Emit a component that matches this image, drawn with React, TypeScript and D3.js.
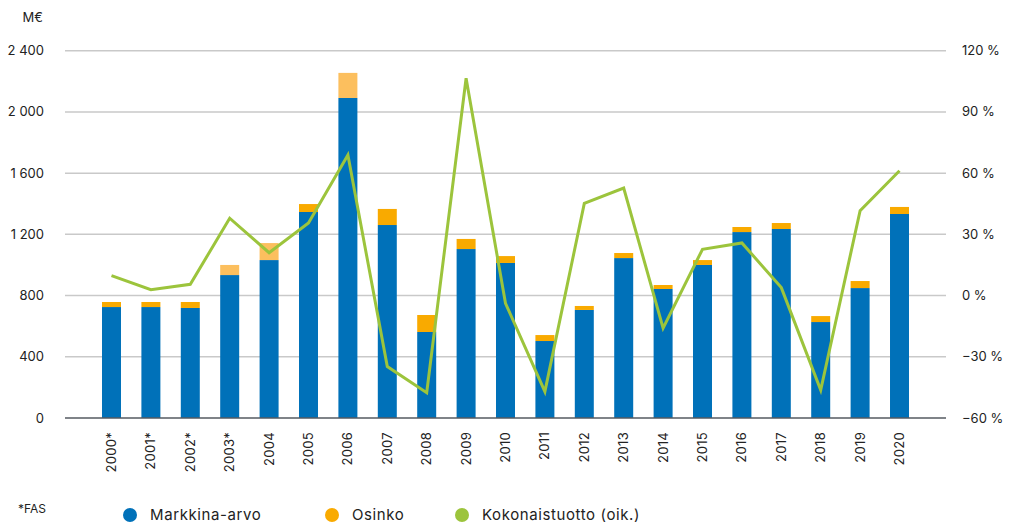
import * as d3 from "d3"

// Data
const years = [
  "2000*", "2001*", "2002*", "2003*", "2004", "2005", "2006", "2007", "2008", "2009", "2010",
  "2011", "2012", "2013", "2014", "2015", "2016", "2017", "2018", "2019", "2020",
]
const markkinaArvo = [
  725, 725, 719, 934, 1032, 1346, 2091, 1261, 562, 1104, 1013,
  503, 706, 1045, 843, 1000, 1215, 1235, 627, 849, 1333,
]
const osinko = [
  33, 33, 39, 66, 111, 52, 164, 105, 111, 66, 45,
  39, 26, 33, 26, 32, 33, 39, 39, 46, 46,
]
// years where the dividend is drawn in the lighter shade
const osinkoLight = ["2003*", "2004", "2006"]
const kokonaistuotto = [
  9.8, 2.9, 5.5, 37.9, 21, 35.6, 68.9, -34.8, -47.6, 106.5, -3.8,
  -47.1, 45.2, 52.7, -16, 22.7, 25.8, 3.9, -46.3, 41.6, 61.2,
]
const leftTicks = [0, 400, 800, 1200, 1600, 2000, 2400]
const rightTicks = [-60, -30, 0, 30, 60, 90, 120]

const WIDTH = 1019
const HEIGHT = 525
const FONT = "Inter, 'Open Sans', sans-serif"

const BLUE = "#0071b9"
const ORANGE = "#f9aa00"
const ORANGE_LIGHT = "#fcbf5e"
const GREEN = "#9cc43c"

export default function App() {
  const plotLeft = 65
  const plotRight = 946
  const top = 50.7
  const bottom = 418

  const x = d3.scaleBand<string>()
    .domain(years)
    .range([plotLeft, plotRight])
    .paddingInner(0.518)
    .paddingOuter(0.939)

  const yLeft = d3.scaleLinear().domain([0, 2400]).range([bottom, top])
  const yRight = d3.scaleLinear().domain([-60, 120]).range([bottom, top])

  const fmt = d3.formatLocale({
    decimal: ",",
    thousands: " ",
    grouping: [3],
    currency: ["", " €"],
    minus: "\u2212",
  }).format(",d")

  const line = d3.line<number>()
    .x((_, i) => (x(years[i]) ?? 0) + x.bandwidth() / 2)
    .y(d => yRight(d))

  const legend = [
    { label: "Markkina-arvo", color: BLUE, cx: 130 },
    { label: "Osinko", color: ORANGE, cx: 332 },
    { label: "Kokonaistuotto (oik.)", color: GREEN, cx: 462 },
  ]

  return (
    <svg
      width={WIDTH}
      height={HEIGHT}
      style={{ position: "absolute", left: 0, top: 0, background: "#fff" }}
      fontFamily={FONT}
    >
      {/* gridlines */}
      {leftTicks.filter(t => t !== 0).map(t => (
        <line key={t} x1={plotLeft} x2={plotRight} y1={yLeft(t)} y2={yLeft(t)}
          stroke="#c9c9c9" strokeWidth={1.5} />
      ))}

      {/* left axis labels */}
      <text x={43} y={22} textAnchor="end" fontSize={13} fill="#222">M€</text>
      {leftTicks.map(t => (
        <text key={t} x={44} y={yLeft(t)} dy="0.35em" textAnchor="end" fontSize={13} fill="#222">
          {fmt(t)}
        </text>
      ))}

      {/* right axis labels */}
      {rightTicks.map(t => (
        <text key={t} x={962} y={yRight(t)} dy="0.35em" textAnchor="start" fontSize={13} fill="#222">
          {(t < 0 ? "\u2212" + Math.abs(t) : String(t)) + " %"}
        </text>
      ))}

      {/* stacked bars */}
      {years.map((yr, i) => {
        const bx = x(yr) ?? 0
        const m = markkinaArvo[i]
        const o = osinko[i]
        return (
          <g key={yr}>
            <rect x={bx} width={x.bandwidth()} y={yLeft(m)} height={yLeft(0) - yLeft(m)} fill={BLUE} />
            <rect x={bx} width={x.bandwidth()} y={yLeft(m + o)} height={yLeft(m) - yLeft(m + o)}
              fill={osinkoLight.includes(yr) ? ORANGE_LIGHT : ORANGE} />
          </g>
        )
      })}

      {/* baseline */}
      <line x1={plotLeft} x2={plotRight} y1={yLeft(0)} y2={yLeft(0)} stroke="#555a60" strokeWidth={1.5} />

      {/* total return line */}
      <path d={line(kokonaistuotto) ?? ""} fill="none" stroke={GREEN} strokeWidth={3} strokeLinejoin="miter" />

      {/* x labels */}
      {years.map(yr => {
        const cx = (x(yr) ?? 0) + x.bandwidth() / 2
        return (
          <text key={yr} transform={`translate(${cx},${432}) rotate(-90)`} dy="0.35em"
            textAnchor="end" fontSize={13} letterSpacing={0.3} fill="#222">
            {yr}
          </text>
        )
      })}

      {/* footnote + legend */}
      <text x={18} y={513} fontSize={12} fill="#222">*FAS</text>
      {legend.map(l => (
        <g key={l.label}>
          <circle cx={l.cx} cy={515} r={7} fill={l.color} />
          <text x={l.cx + 20} y={515} dy="0.35em" fontSize={15} letterSpacing={0.6} fill="#222">{l.label}</text>
        </g>
      ))}
    </svg>
  )
}
